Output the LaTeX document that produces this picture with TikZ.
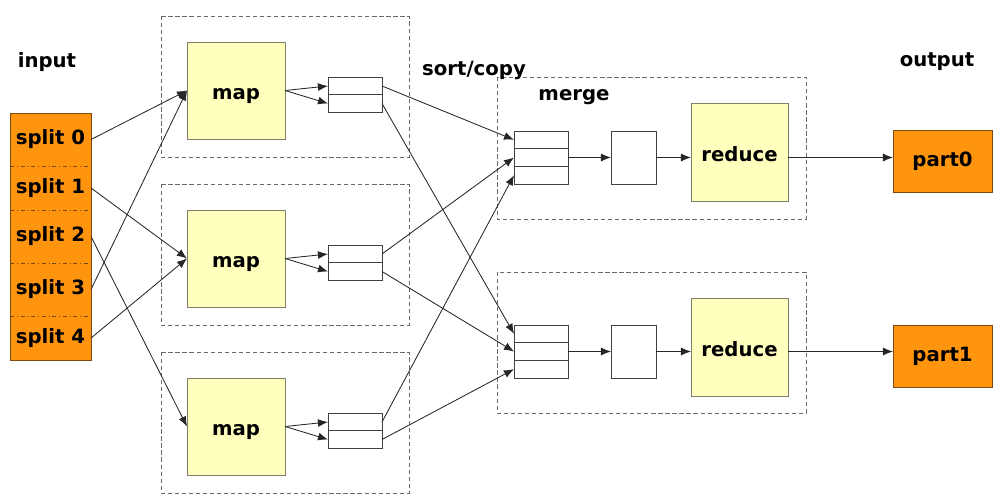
\documentclass[tikz,border=0pt]{standalone}
\usepackage{fontspec}
\setmainfont{DejaVu Sans}
\usetikzlibrary{arrows.meta}

\definecolor{splitfill}{HTML}{FF950E}
\definecolor{splitline}{HTML}{7A4A10}
\definecolor{taskfill}{HTML}{FFFFBE}
\definecolor{taskline}{HTML}{7F7F66}
\definecolor{groupline}{HTML}{6A6A6A}

\begin{document}
\begin{tikzpicture}[x=0.025cm, y=-0.025cm,
  every node/.style={font=\bfseries\fontsize{14}{16}\selectfont, inner sep=0pt, outer sep=0pt},
  splitcell/.style={minimum width=2.025cm, minimum height=1.1cm},
  task/.style={draw=taskline, fill=taskfill, line width=0.6pt, text height=13pt, text depth=0pt},
  cell/.style={draw=black!75, fill=white, line width=0.5pt, minimum width=1.35cm},
  outbox/.style={draw=splitline, fill=splitfill, line width=0.6pt, minimum width=2.475cm, minimum height=1.55cm},
  group/.style={draw=groupline, line width=0.6pt, dash pattern=on 3pt off 2pt},
  flow/.style={draw=black!85, line width=0.6pt, -{Latex[length=2.5mm,width=2mm]}}]
\useasboundingbox (0,0) rectangle (1001,500);

% dashed groups
\draw[group] (161,16) rectangle (409,157);
\draw[group] (161,184) rectangle (409,325);
\draw[group] (161,352) rectangle (409,493);
\draw[group] (497,77) rectangle (806,219);
\draw[group] (497,272) rectangle (806,413);

% input splits
\filldraw[fill=splitfill, draw=splitline, line width=0.6pt] (10,113) rectangle (91,360);
\draw[splitline, line width=0.5pt, dash dot] (10,166) -- (91,166) (10,210) -- (91,210) (10,263) -- (91,263) (10,316) -- (91,316);
\node[splitcell] (split0) at (50.5,139.5) {split 0};
\node[splitcell] (split1) at (50.5,188) {split 1};
\node[splitcell] (split2) at (50.5,236.5) {split 2};
\node[splitcell] (split3) at (50.5,289.5) {split 3};
\node[splitcell] (split4) at (50.5,338) {split 4};

% map tasks
\node[task, minimum width=2.45cm, minimum height=2.425cm] (map0) at (236,90.5) {map};
\node[task, minimum width=2.45cm, minimum height=2.425cm] (map1) at (236,258.5) {map};
\node[task, minimum width=2.45cm, minimum height=2.425cm] (map2) at (236,426.5) {map};

\node[cell, minimum height=0.4375cm] (buf0a) at (355,86) {};
\node[cell, minimum height=0.4375cm] (buf0b) at (355,103.5) {};
\node[cell, minimum height=0.4375cm] (buf1a) at (355,254) {};
\node[cell, minimum height=0.4375cm] (buf1b) at (355,271.5) {};
\node[cell, minimum height=0.4375cm] (buf2a) at (355,422) {};
\node[cell, minimum height=0.4375cm] (buf2b) at (355,439.5) {};

% reduce side
\node[cell, minimum height=0.442cm] (mrg0a) at (541,139.8) {};
\node[cell, minimum height=0.442cm] (mrg0b) at (541,157.5) {};
\node[cell, minimum height=0.442cm] (mrg0c) at (541,175.2) {};
\node[cell, minimum height=0.442cm] (mrg1a) at (541,333.8) {};
\node[cell, minimum height=0.442cm] (mrg1b) at (541,351.5) {};
\node[cell, minimum height=0.442cm] (mrg1c) at (541,369.2) {};

\node[cell, minimum width=1.125cm, minimum height=1.325cm] (mid0) at (633.5,157.5) {};
\node[cell, minimum width=1.125cm, minimum height=1.325cm] (mid1) at (633.5,351.5) {};

\node[task, minimum width=2.425cm, minimum height=2.45cm] (red0) at (739.5,152) {reduce};
\node[task, minimum width=2.425cm, minimum height=2.45cm] (red1) at (739.5,347) {reduce};

\node[outbox] (part0) at (942.5,161) {part0};
\node[outbox] (part1) at (942.5,356.5) {part1};

% labels
\node (input) at (47,62) {input};
\node (output) at (937,62) {output};
\node (sortcopy) at (474,70) {sort/copy};
\node (merge) at (574,97) {merge};

% splits to maps
\draw[flow] (split0.east) -- (map0.west);
\draw[flow] (split1.east) -- (map1.west);
\draw[flow] (split2.east) -- (map2.west);
\draw[flow] (split3.east) -- (map0.west);
\draw[flow] (split4.east) -- (map1.west);

% maps to buffers
\draw[flow] (map0.east) -- (buf0a.west);
\draw[flow] (map0.east) -- (buf0b.west);
\draw[flow] (map1.east) -- (buf1a.west);
\draw[flow] (map1.east) -- (buf1b.west);
\draw[flow] (map2.east) -- (buf2a.west);
\draw[flow] (map2.east) -- (buf2b.west);

% sort/copy
\draw[flow] (buf0a.east) -- (mrg0a.west);
\draw[flow] (buf0b.east) -- (mrg1a.west);
\draw[flow] (buf1a.east) -- (mrg0b.west);
\draw[flow] (buf1b.east) -- (mrg1b.west);
\draw[flow] (buf2a.east) -- (mrg0c.west);
\draw[flow] (buf2b.east) -- (mrg1c.west);

% merge and reduce
\draw[flow] (mrg0b.east) -- (mid0.west);
\draw[flow] (mid0.east) -- (mid0.east -| red0.west);
\draw[flow] (red0.east |- mid0) -- (part0.west |- mid0);
\draw[flow] (mrg1b.east) -- (mid1.west);
\draw[flow] (mid1.east) -- (mid1.east -| red1.west);
\draw[flow] (red1.east |- mid1) -- (part1.west |- mid1);
\end{tikzpicture}
\end{document}
